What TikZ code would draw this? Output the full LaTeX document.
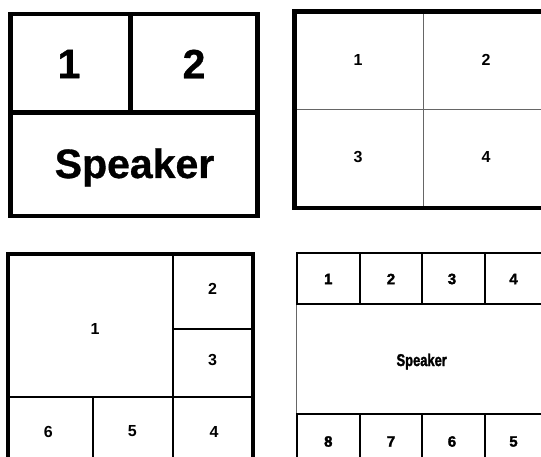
\documentclass[tikz,border=0pt]{standalone}
\usepackage{fontspec}
\setmainfont{Liberation Sans}
\newfontfamily\heavyfont{Liberation Sans}[BoldFeatures={FakeBold=2}]
\newfontfamily\semiheavyfont{Liberation Sans}[BoldFeatures={FakeBold=0.8}]
\begin{document}
\begin{tikzpicture}[x=1pt,y=-1pt,
  thickline/.style={line width=4.5pt,line cap=rect},
  midline/.style={line width=2pt,line cap=rect},
  thinline/.style={line width=1pt,draw=black!60},
  bigl/.style={font=\semiheavyfont\fontsize{41}{41}\selectfont\bfseries,inner sep=0pt},
  smalll/.style={font=\fontsize{16}{16}\selectfont\bfseries,inner sep=0pt},
  tinyl/.style={font=\heavyfont\fontsize{15}{15}\selectfont\bfseries,inner sep=0pt}]
\useasboundingbox (0,0) rectangle (541,457);
\clip (0,0) rectangle (541,457);
\fill[white] (0,0) rectangle (541,457);
% Panel 1
\draw[thickline] (10.5,13.8) rectangle (257.5,215.8);
\draw[thickline] (130.5,13.8) -- (130.5,112.5);
\draw[thickline] (10.5,112.5) -- (257.5,112.5);
\node[bigl] (p1a) at (69,64) {1};
\node[bigl] (p1b) at (194,64) {2};
\node[bigl,anchor=base] (p1s) at (134.5,178) {Speaker};
% Panel 2
\draw[thinline] (423.7,11.7) -- (423.7,208);
\draw[thinline] (294.5,109.3) -- (560,109.3);
\draw[line width=4.5pt] (560,11.7) -- (294.5,11.7) -- (294.5,208) -- (560,208);
\node[smalll] (p2a) at (358,59.5) {1};
\node[smalll] (p2b) at (486,59.5) {2};
\node[smalll] (p2c) at (358,157) {3};
\node[smalll] (p2d) at (486,157) {4};
% Panel 3
\draw[midline] (173.3,253.8) -- (173.3,470);
\draw[midline] (8,396.5) -- (253,396.5);
\draw[midline] (173.3,329.3) -- (253,329.3);
\draw[midline] (93.3,396.5) -- (93.3,470);
\draw[line width=4.5pt] (8,470) -- (8,253.8) -- (253,253.8) -- (253,470);
\node[smalll] (p3a) at (95,329) {1};
\node[smalll] (p3b) at (212.5,288.5) {2};
\node[smalll] (p3c) at (212.5,360.5) {3};
\node[smalll] (p3f) at (48.3,431.5) {6};
\node[smalll] (p3e) at (132.3,431.5) {5};
\node[smalll] (p3d) at (214,431.5) {4};
% Panel 4
\draw[thinline] (296.8,304.3) -- (296.8,413.5);
\draw[midline] (296.8,304.3) -- (296.8,252.7) -- (560,252.7);
\draw[midline] (296.8,304.3) -- (560,304.3);
\draw[midline] (296.8,413.5) -- (560,413.5);
\draw[midline] (296.8,413.5) -- (296.8,470);
\foreach \xx in {359.7,421.7,484.5} {
  \draw[midline] (\xx,252.7) -- (\xx,304.3);
  \draw[midline] (\xx,413.5) -- (\xx,470);
}
\node[tinyl] (p4a) at (328.3,279) {1};
\node[tinyl] (p4b) at (391,279) {2};
\node[tinyl] (p4c) at (452,279) {3};
\node[tinyl] (p4d) at (513.5,279) {4};
\node[tinyl,anchor=base] (p4s) at (421.7,366) {\fontsize{17}{17}\selectfont\scalebox{0.76}[1]{Speaker}};
\node[tinyl] (p4h) at (328.3,441.5) {8};
\node[tinyl] (p4g) at (391,441.5) {7};
\node[tinyl] (p4f) at (452,441.5) {6};
\node[tinyl] (p4e) at (513.5,441.5) {5};
\end{tikzpicture}
\end{document}
